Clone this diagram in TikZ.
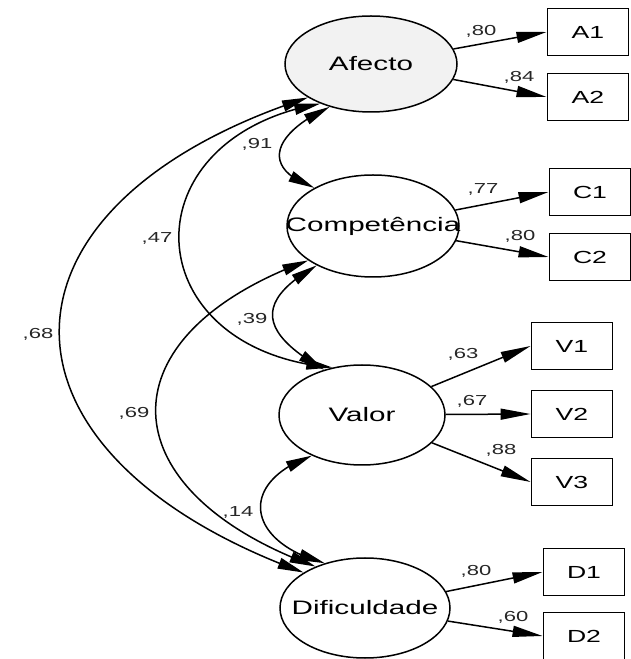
\documentclass[tikz,border=0pt]{standalone}
\usepackage{fontspec}
\newfontfamily\semfont[FakeStretch=1.52]{Liberation Sans}
\usetikzlibrary{shapes.geometric,arrows.meta,bending}

\begin{document}
\begin{tikzpicture}[x=1pt, y=1pt,
        latent/.style={draw, ellipse, line width=1.5pt, inner sep=0pt},
        latname/.style={font=\semfont\fontsize{19.5}{22}\selectfont},
        obs/.style={draw, rectangle, line width=1.9pt, minimum width=81pt, minimum height=47pt, font=\semfont\fontsize{17.5}{20}\selectfont},
        coef/.style={font=\semfont\fontsize{14.5}{16}\selectfont, text=black!85, inner sep=0pt},
        load/.style={-{Triangle[length=30pt, width=11pt]}, line width=1.5pt},
        corr/.style={{Triangle[length=26pt, width=11pt, flex]}-{Triangle[length=26pt, width=11pt, flex]}, line width=1.5pt}]
            \useasboundingbox (0,0) rectangle (631,659);

            \node[latent, fill=black!5, minimum width=172pt, minimum height=96pt, label={[latname]center:Afecto}] (afecto) at (371,595) {};
            \node[latent, minimum width=172pt, minimum height=102pt, label={[latname]center:Competência}] (comp) at (373,433) {};
            \node[latent, minimum width=166pt, minimum height=100pt, label={[latname]center:Valor}] (valor) at (362,244) {};
            \node[latent, minimum width=170pt, minimum height=100pt, label={[latname]center:Dificuldade}] (dif) at (365,51) {};

            \node[obs] (a1) at (588,627) {A1};
            \node[obs] (a2) at (588,562) {A2};
            \node[obs] (c1) at (590,467) {C1};
            \node[obs] (c2) at (590,402) {C2};
            \node[obs] (v1) at (572,313) {V1};
            \node[obs] (v2) at (572,245) {V2};
            \node[obs] (v3) at (572,177) {V3};
            \node[obs] (d1) at (584,87) {D1};
            \node[obs] (d2) at (584,23) {D2};

            \draw(afecto)[load] -- (a1.west);
            \draw(afecto)[load] -- (a2.west);
            \draw(comp)[load] -- (c1.west);
            \draw(comp)[load] -- (c2.west);
            \draw(valor)[load] -- (v1.west);
            \draw(valor)[load] -- (v2.west);
            \draw(valor)[load] -- (v3.west);
            \draw(dif)[load] -- (d1.west);
            \draw(dif)[load] -- (d2.west);

            \draw(afecto.226)[corr] to[out=205, in=160, looseness=1.87] (comp.147);
            \draw(comp.215)[corr] to[out=210, in=150, looseness=1.8] (valor.130);
            \draw(valor.219)[corr] to[out=200, in=165, looseness=1.9] (dif.132);
            \draw(afecto.218)[corr] to[out=190, in=175, looseness=1.92] (valor.122);
            \draw(comp.208)[corr] to[out=200, in=160, looseness=1.85] (dif.140);
            \draw(afecto.208)[corr] to[out=198, in=160, looseness=1.87] (dif.150);

            \node[coef] (ka1) at (481,628) {,80};
            \node[coef] (ka2) at (519,582) {,84};
            \node[coef] (kc1) at (483,470) {,77};
            \node[coef] (kc2) at (520,423) {,80};
            \node[coef] (kv1) at (463,305) {,63};
            \node[coef] (kv2) at (472,258) {,67};
            \node[coef] (kv3) at (501,209) {,88};
            \node[coef] (kd1) at (476,88) {,80};
            \node[coef] (kd2) at (513,42) {,60};

            \node[coef] (rac) at (257,515) {,91};
            \node[coef] (rav) at (157,421) {,47};
            \node[coef] (rcv) at (252,340) {,39};
            \node[coef] (rad) at (38,325) {,68};
            \node[coef] (rcd) at (134,246) {,69};
            \node[coef] (rvd) at (238,147) {,14};
        \end{tikzpicture}
\end{document}
